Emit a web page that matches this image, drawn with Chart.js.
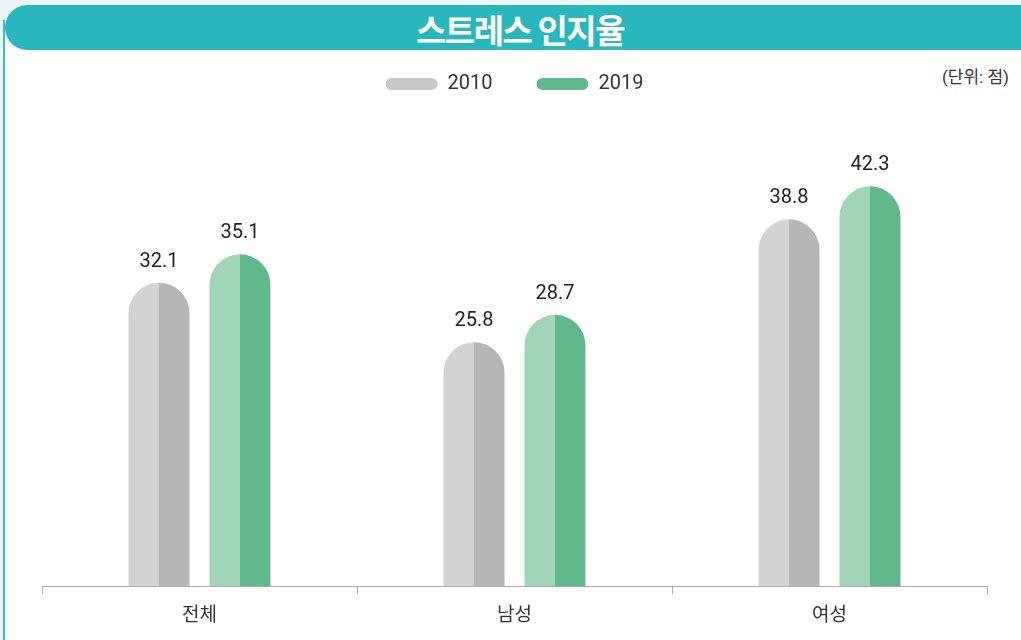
<!DOCTYPE html>
<html><head><meta charset="utf-8">
<script src="https://cdn.jsdelivr.net/npm/chart.js@4"></script>
<style>
html,body{margin:0;padding:0;width:1021px;height:640px;overflow:hidden;background:#eef5f7;font-family:Roboto,'Noto Sans CJK KR',sans-serif;}
#panel{position:absolute;left:3px;top:20px;width:1030px;height:640px;background:#fff;border-left:2px solid #3dbdc0;}
#title{position:absolute;left:5px;top:5px;width:1040px;height:45px;background:#27b7bc;border-radius:23px;}
#title span{position:absolute;left:0;width:1030px;top:0;line-height:45px;text-align:center;color:#fff;font:bold 33px 'Noto Sans CJK KR',sans-serif;letter-spacing:-1.5px;}
#unit{position:absolute;right:12px;top:63px;font:17px Roboto,'Noto Sans CJK KR',sans-serif;color:#333;}
#wrap{position:absolute;left:0;top:0;width:1021px;height:640px;}
</style></head><body>
<div id="panel"></div>
<div id="title"><span>스트레스 인지율</span></div>
<div id="unit">(단위: 점)</div>
<div id="wrap"><canvas id="c"></canvas></div>
<script>
const categories = ['전체', '남성', '여성'];
const seriesNames = ['2010', '2019'];
const values2010 = [32.1, 25.8, 38.8];
const values2019 = [35.1, 28.7, 42.3];
const colors2010 = ['#d3d3d3', '#b5b6b5'];
const colors2019 = ['#a2d5b7', '#60b98a'];
const legendColors = ['#c9c9c9', '#60b98a'];

const CP = 0.514, BP = 0.753;
function splitFill(pair, dsIndex){
  return function(context){
    const chart = context.chart;
    const xs = chart.scales && chart.scales.x;
    if (!xs || !chart.chartArea) return pair[0];
    const i = context.dataIndex;
    const catW = (xs.right - xs.left) / categories.length;
    const slot = catW * CP / 2;
    const w = slot * BP;
    const cx = xs.getPixelForValue(i) + (dsIndex === 0 ? -slot/2 : slot/2);
    const g = chart.ctx.createLinearGradient(cx - w/2, 0, cx + w/2, 0);
    g.addColorStop(0, pair[0]); g.addColorStop(0.5, pair[0]);
    g.addColorStop(0.5, pair[1]); g.addColorStop(1, pair[1]);
    return g;
  };
}

const labelPlugin = {
  id: 'vlabels',
  afterDatasetsDraw(chart){
    const ctx = chart.ctx;
    ctx.save();
    ctx.font = '20px Roboto, sans-serif';
    ctx.fillStyle = '#222';
    ctx.textAlign = 'center';
    ctx.textBaseline = 'bottom';
    chart.data.datasets.forEach((ds, di) => {
      chart.getDatasetMeta(di).data.forEach((el, i) => {
        ctx.fillText(ds.data[i].toFixed(1), el.x, el.y - 11);
      });
    });
    ctx.restore();
  }
};

new Chart(document.getElementById('c'), {
  type: 'bar',
  data: {
    labels: categories,
    datasets: [
      {label: seriesNames[0], data: values2010, backgroundColor: splitFill(colors2010, 0),
       borderRadius: {topLeft: 40, topRight: 40, bottomLeft: 0, bottomRight: 0}, borderSkipped: 'bottom',
       categoryPercentage: CP, barPercentage: BP},
      {label: seriesNames[1], data: values2019, backgroundColor: splitFill(colors2019, 1),
       borderRadius: {topLeft: 40, topRight: 40, bottomLeft: 0, bottomRight: 0}, borderSkipped: 'bottom',
       categoryPercentage: CP, barPercentage: BP}
    ]
  },
  options: {
    responsive: true, maintainAspectRatio: false, animation: false,
    layout: {padding: {left: 42, right: 34, top: 30, bottom: 7}},
    plugins: {
      tooltip: {enabled: false},
      legend: {
        position: 'top',
        labels: {
          font: {size: 20, family: 'Roboto, sans-serif'}, color: '#333',
          boxWidth: 52, boxHeight: 12, useBorderRadius: true, borderRadius: 6, padding: 44,
          generateLabels(chart){
            return chart.data.datasets.map((ds, i) => ({
              text: ds.label, fillStyle: legendColors[i], strokeStyle: legendColors[i],
              lineWidth: 0, borderRadius: 6, datasetIndex: i, hidden: false, fontColor: '#333'
            }));
          }
        }
      }
    },
    scales: {
      x: {
        grid: {drawOnChartArea: false, drawTicks: true, tickLength: 8, color: '#aaa', offset: true},
        border: {display: true, color: '#aaa'},
        ticks: {font: {size: 19, family: "'Noto Sans CJK KR', sans-serif"}, color: '#333', padding: 8}
      },
      y: {display: false, min: 0, max: 51.0}
    }
  },
  plugins: [labelPlugin]
});
</script>
</body></html>
